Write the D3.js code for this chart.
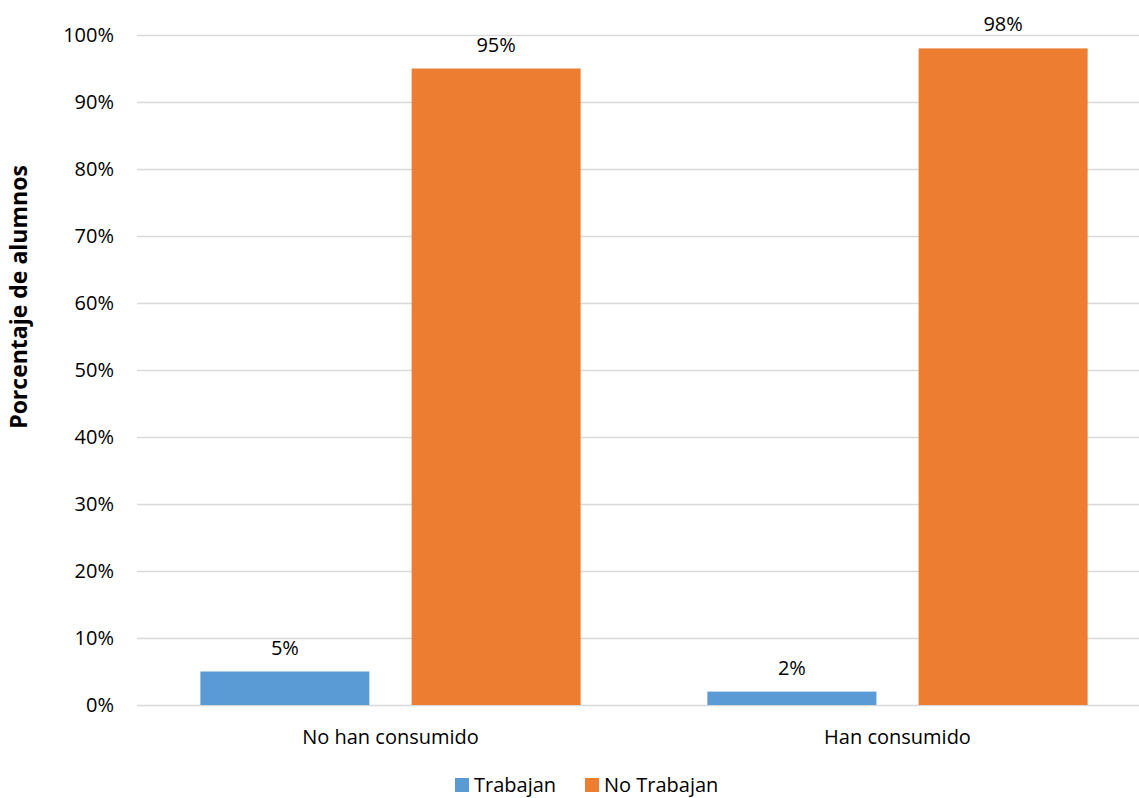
<!DOCTYPE html>
<html>
<head>
<meta charset="utf-8">
<script src="https://cdn.jsdelivr.net/npm/d3@7"></script>
<style>
  body { margin: 0; background: #fff; }
  svg { display: block; font-family: "Open Sans", "Noto Sans", sans-serif; }
</style>
</head>
<body>
<svg id="chart"></svg>
<script>
let categories = ['No han consumido', 'Han consumido']
let series = ['Trabajan', 'No Trabajan']
let trabajan = [5, 2]
let noTrabajan = [95, 98]
let yTicks = [0, 10, 20, 30, 40, 50, 60, 70, 80, 90, 100]
let colors = ['#5b9bd5', '#ed7d31']

let svgWidth = 1139, svgHeight = 798
let margin = {top: 35, left: 137, bottom: 93}
let plotRight = 1151 // plot area runs past the right edge of the picture

let svg = d3.select('#chart').attr('width', svgWidth).attr('height', svgHeight)

let x = d3.scaleBand().domain(categories).range([margin.left, plotRight])
let xInner = d3.scaleBand().domain(series).range([0, x.bandwidth()]).paddingInner(0.2).paddingOuter(0.3)
let y = d3.scaleLinear().domain([0, 100]).range([svgHeight - margin.bottom, margin.top])

// gridlines
svg.append('g')
  .selectAll('line').data(yTicks).enter().append('line')
  .attr('x1', margin.left).attr('x2', plotRight)
  .attr('y1', d => y(d) + 0.5).attr('y2', d => y(d) + 0.5)
  .attr('stroke', '#d9d9d9').attr('stroke-width', 1.3)

// y axis labels
let yAxis = d3.axisLeft(y).tickValues(yTicks).tickFormat(d => d + '%').tickSize(0).tickPadding(0)
let yg = svg.append('g').attr('transform', `translate(${margin.left - 23},0)`).call(yAxis)
yg.select('.domain').remove()
yg.selectAll('text').attr('font-size', 20).attr('fill', '#000').attr('font-family', '"Open Sans", sans-serif')

// bars
let rows = categories.map((c, i) => ({cat: c, values: [trabajan[i], noTrabajan[i]]}))
let groups = svg.selectAll('.grp').data(rows).enter().append('g')
  .attr('class', 'grp')
  .attr('transform', d => `translate(${x(d.cat)},0)`)

groups.selectAll('rect').data(d => d.values.map((v, j) => ({s: series[j], v: v, j: j}))).enter().append('rect')
  .attr('x', d => xInner(d.s))
  .attr('width', xInner.bandwidth())
  .attr('y', d => y(d.v))
  .attr('height', d => y(0) - y(d.v))
  .attr('fill', d => colors[d.j])

groups.selectAll('text').data(d => d.values.map((v, j) => ({s: series[j], v: v, j: j}))).enter().append('text')
  .attr('x', d => xInner(d.s) + xInner.bandwidth() / 2)
  .attr('y', d => y(d.v) - 17)
  .attr('text-anchor', 'middle')
  .attr('font-size', 20)
  .text(d => d.v + '%')

// category labels
svg.append('g').selectAll('text').data(categories).enter().append('text')
  .attr('x', d => x(d) + x.bandwidth() / 2)
  .attr('y', svgHeight - margin.bottom + 39)
  .attr('text-anchor', 'middle')
  .attr('font-size', 20)
  .text(d => d)

// y axis title
svg.append('text')
  .attr('transform', `translate(27,297) rotate(-90)`)
  .attr('text-anchor', 'middle')
  .attr('font-size', 23)
  .attr('font-weight', 'bold')
  .text('Porcentaje de alumnos')

// legend
let legendX = [455, 585]
let legend = svg.append('g').selectAll('g').data(series).enter().append('g')
  .attr('transform', (d, i) => `translate(${legendX[i]},${svgHeight - 20})`)
legend.append('rect').attr('x', 0).attr('y', 0).attr('width', 14).attr('height', 14).attr('fill', (d, i) => colors[i])
legend.append('text').attr('x', 19).attr('y', 14).attr('font-size', 20).text(d => d)
</script>
</body>
</html>
